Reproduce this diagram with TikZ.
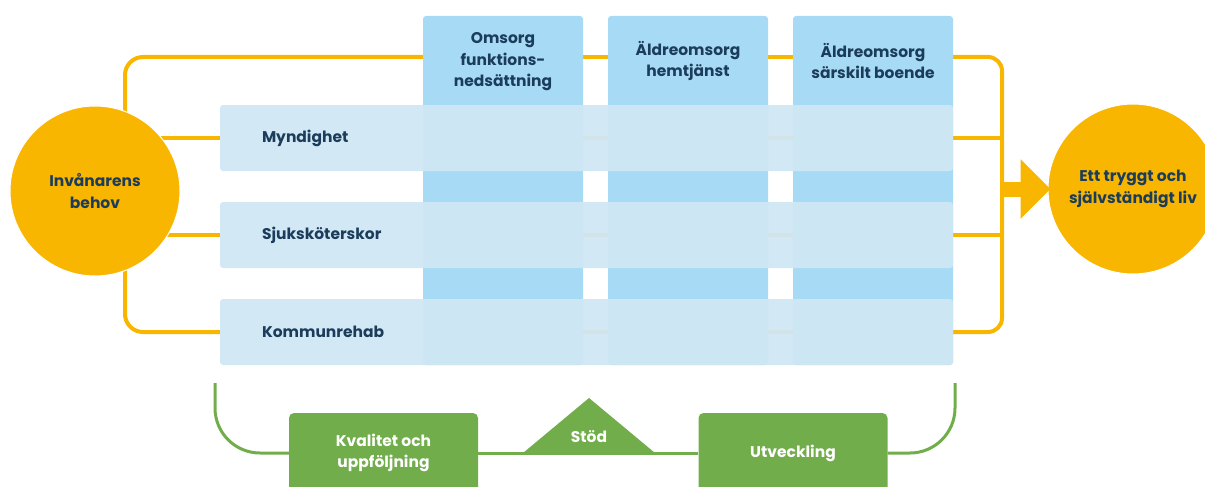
\documentclass[tikz,border=0pt]{standalone}
\usepackage{fontspec}
\setmainfont{Poppins}[BoldFont={Poppins Bold}]
\usetikzlibrary{arrows.meta}

\definecolor{sunny}{HTML}{F9B600}
\definecolor{navy}{HTML}{1B3C5A}
\definecolor{colblue}{HTML}{A7DBF5}
\definecolor{rowblue}{HTML}{D0E7F4}
\definecolor{leaf}{HTML}{72AD4B}

\newcommand{\lbl}{\fontsize{15.5}{21.5}\selectfont\bfseries}

\pgfdeclarelayer{background}
\pgfsetlayers{background,main}

\begin{document}
\begin{tikzpicture}[x=1pt, y=-1pt, ring/.style={circle, fill=sunny, draw=white, line width=1pt, minimum size=170pt, inner sep=0pt, align=center, font=\lbl, text=navy}, column/.style={rectangle, fill=colblue, rounded corners=3pt, minimum width=160pt, minimum height=349pt, inner sep=0pt}, coltext/.style={align=center, font=\lbl, text=navy}, row/.style={rectangle, fill=rowblue, fill opacity=0.95, text opacity=1, rounded corners=3pt, minimum height=66pt, text width=649pt, inner xsep=42pt, align=left, font=\lbl, text=navy}, yline/.style={draw=sunny, line width=4pt}, gline/.style={draw=leaf, line width=3pt}, greenbox/.style={rectangle, fill=leaf, rounded corners=5pt, minimum width=189pt, minimum height=80pt, align=center, text=white, font=\lbl}]
      \useasboundingbox (0,0) rectangle (1205,487);

      \node[ring] (inv)  at (95,191)   {Invånarens\\behov};
      \node[ring] (goal) at (1133,189) {Ett tryggt och\\självständigt liv};

      \node[column] (omsorg) at (503,190.5) {};
      \node[column] (hemtj)  at (688,190.5) {};
      \node[column] (boende) at (873,190.5) {};
      \node[coltext] (omsorgtxt) at (503,62) {Omsorg\\funktions-\\nedsättning};
      \node[coltext] (hemtjtxt)  at (688,61) {Äldreomsorg\\hemtjänst};
      \node[coltext] (boendetxt) at (873,61) {Äldreomsorg\\särskilt boende};

      \node[row] (mynd) at (586.5,138) {Myndighet};
      \node[row] (sjuk) at (586.5,235) {Sjuksköterskor};
      \node[row] (komm) at (586.5,332) {Kommunrehab};

      \coordinate (tl) at (125,57);
      \coordinate (bl) at (125,332);
      \coordinate (tr) at (1002,57);
      \coordinate (br) at (1002,332);

      % yellow frame behind everything
      \begin{pgfonlayer}{background}
        \draw[yline, rounded corners=18pt] (inv.center -| tl) -- (tl) -- (omsorg.west |- tl);
        \draw[yline, rounded corners=18pt] (inv.center -| bl) -- (bl) -- (komm.west);
        \draw[yline] (omsorg.east |- tl) -- (hemtj.west |- tl);
        \draw[yline] (hemtj.east |- tl) -- (boende.west |- tl);
        \draw[yline, rounded corners=14pt] (boende.east |- tl) -- (tr) -- (br) -- (komm.east);
        \foreach \r in {mynd,sjuk} {
          \draw[yline] (inv.center |- \r.west) -- (\r.west);
          \draw[yline] (\r.east) -- (\r.east -| tr);
        }
        \foreach \r in {mynd,sjuk,komm} {
          \draw[yline] (omsorg.east |- \r) -- (hemtj.west |- \r);
          \draw[yline] (hemtj.east |- \r) -- (boende.west |- \r);
        }
      \end{pgfonlayer}

      \draw[sunny, line width=15pt, -{Triangle[length=30pt, width=58pt]}] (tr |- goal) -- ([xshift=3pt]goal.west);

      % support and follow-up
      \node[greenbox] (kval) at (383.5,453) {Kvalitet och\\uppföljning};
      \node[greenbox] (utv)  at (793,453)   {Utveckling};
      \coordinate (gl) at (215,383);
      \coordinate (gr) at (955,383);
      \coordinate (stodbase) at (589,453);

      \draw[gline, rounded corners=45pt] (gl) -- (gl |- kval) -- (kval.west);
      \draw[gline, rounded corners=45pt] (gr) -- (gr |- utv) -- (utv.east);
      \draw[gline] (kval.east) -- (utv.west);
      \fill[leaf] (stodbase) ++(-66,0) -- ++(66,-55) -- ++(66,55) -- cycle;
      \node[text=white, font=\lbl] (stod) at (589,437) {Stöd};
    \end{tikzpicture}
\end{document}
